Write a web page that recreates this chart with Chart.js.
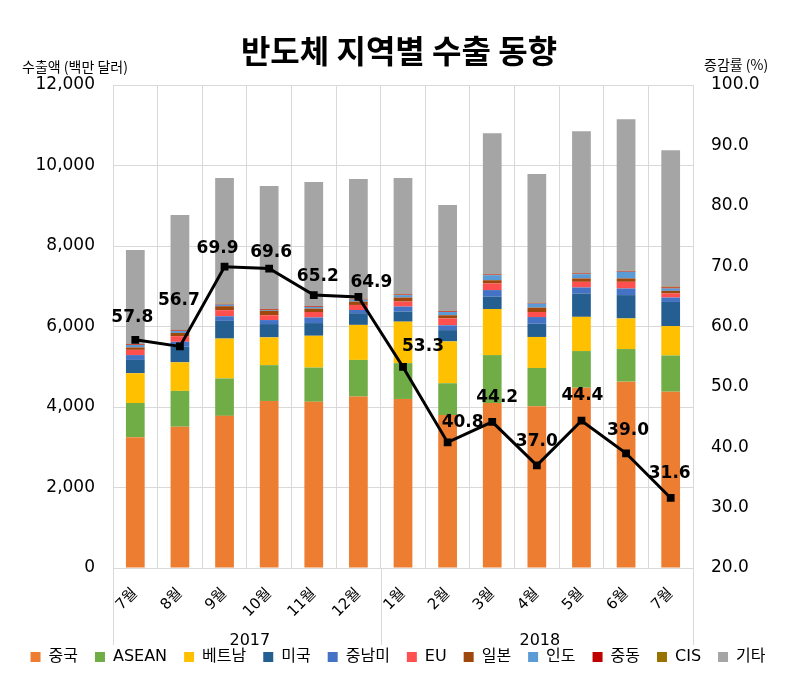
<!DOCTYPE html>
<html><head><meta charset="utf-8">
<script src="https://cdn.jsdelivr.net/npm/chart.js@4.4.0/dist/chart.umd.min.js"></script>
<style>html,body{margin:0;padding:0;background:#fff}#wrap{width:796px;height:685px}</style>
</head><body><div id="wrap"><canvas id="c" width="796" height="685"></canvas></div>
<script>
const months = ['7월','8월','9월','10월','11월','12월','1월','2월','3월','4월','5월','6월','7월'];
const yearLabels = ['2017','2018'];
const yearSpans = [6, 7];
const seriesNames = ['중국','ASEAN','베트남','미국','중남미','EU','일본','인도','중동','CIS','기타'];
const china   = [3250,3510,3780,4150,4130,4260,4200,3800,4100,4020,4480,4630,4380];
const asean   = [850,890,930,890,850,910,890,790,1190,950,910,810,900];
const vietnam = [740,710,990,690,790,870,1030,1040,1145,770,850,760,730];
const usa     = [330,390,440,330,315,290,250,280,305,330,580,580,600];
const latam   = [120,120,115,100,140,80,125,120,165,165,150,165,110];
const eu      = [130,140,150,120,135,125,125,170,165,125,140,165,100];
const japan   = [60,80,100,110,85,85,100,80,80,110,85,85,65];
const india   = [60,50,40,20,40,50,60,80,125,100,105,165,60];
const mideast = [15,15,15,15,15,15,15,15,15,15,15,15,25];
const cis     = [10,10,10,10,10,10,10,10,10,10,10,10,20];
const others  = [2335,2855,3120,3055,3080,2970,2885,2635,3500,3195,3525,3765,3390];
const growth  = [57.8,56.7,69.9,69.6,65.2,64.9,53.3,40.8,44.2,37.0,44.4,39.0,31.6];
const leftTitle = '수출액 (백만 달러)';
const rightTitle = '증감률 (%)';
const chartTitle = '반도체 지역별 수출 동향';

const colors = ['#ED7D31','#70AD47','#FFC000','#255E91','#4472C4','#FF4F4F','#9E480E','#5B9BD5','#C00000','#997300','#A5A5A5'];
const seriesData = [china,asean,vietnam,usa,latam,eu,japan,india,mideast,cis,others];
const labelOffsets = [[-3,-22],[-1,-46],[-7,-18],[2,-16],[4,-19],[13,-14],[20,-20],[15,-20],[5,-24],[0,-24],[1,-25],[2,-23],[-1,-24]];

const FONT = '"DejaVu Sans", "Noto Sans CJK KR", sans-serif';
Chart.defaults.font.family = FONT;
Chart.defaults.color = '#000';

const datasets = seriesData.map((d,i)=>({
  type:'bar', label:seriesNames[i], data:d, backgroundColor:colors[i], borderWidth:0,
  stack:'s', yAxisID:'y', order:1, barPercentage:0.42, categoryPercentage:1.0
}));
datasets.push({
  type:'line', label:'증감률', data:growth, yAxisID:'y1', order:0,
  borderColor:'#000', backgroundColor:'#000', borderWidth:3,
  pointStyle:'rect', pointRadius:5.5, pointBackgroundColor:'#000', pointBorderWidth:0, tension:0
});

const decor = {
  id:'decor',
  afterDatasetsDraw(chart){
    const ctx = chart.ctx;
    const meta = chart.getDatasetMeta(11);
    ctx.save();
    ctx.font = 'bold 17px "DejaVu Sans"';
    ctx.fillStyle = '#000';
    ctx.textAlign = 'center';
    ctx.textBaseline = 'middle';
    meta.data.forEach((pt,i)=>{
      const o = labelOffsets[i];
      ctx.fillText(growth[i].toFixed(1), pt.x+o[0], pt.y+o[1]);
    });
    ctx.restore();
  },
  afterDraw(chart){
    const ctx = chart.ctx;
    const xs = chart.scales.x;
    const bottom = chart.chartArea.bottom;
    ctx.save();
    ctx.fillStyle = '#000';
    ctx.font = 'bold 32px "Noto Sans CJK KR"';
    ctx.textAlign = 'center';
    ctx.textBaseline = 'middle';
    ctx.fillText(chartTitle, 399, 51);
    ctx.font = '14px "Noto Sans CJK KR"';
    ctx.textAlign = 'left';
    ctx.fillText(leftTitle, 22, 67);
    ctx.fillText(rightTitle, 704, 65);
    const step = (xs.right - xs.left) / months.length;
    ctx.strokeStyle = '#D9D9D9';
    ctx.lineWidth = 1;
    let start = 0;
    const bounds = [xs.left];
    yearSpans.forEach(n=>{ start += n; bounds.push(xs.left + step*start); });
    bounds.forEach(bx=>{
      const px = Math.round(bx)+0.5;
      ctx.beginPath(); ctx.moveTo(px, bottom); ctx.lineTo(px, bottom+77); ctx.stroke();
    });
    ctx.font = '16px "DejaVu Sans"';
    ctx.textAlign = 'center';
    ctx.fillStyle = '#000';
    yearLabels.forEach((t,i)=>{
      ctx.fillText(t, (bounds[i]+bounds[i+1])/2 + 3, 641);
    });
    ctx.restore();
  }
};

new Chart(document.getElementById('c'), {
  data:{labels:months, datasets},
  options:{
    responsive:false, animation:false, devicePixelRatio:1,
    layout:{padding:{top:85,bottom:10,left:0,right:0}},
    plugins:{
      legend:{position:'bottom', labels:{boxWidth:10, boxHeight:10, padding:17, font:{size:16, family:FONT}, color:'#000',
        filter:(item)=>item.datasetIndex<11}},
      tooltip:{enabled:false}, title:{display:false}
    },
    scales:{
      x:{stacked:true, grid:{offset:true, color:'#D9D9D9', drawTicks:false}, border:{color:'#D9D9D9'},
        ticks:{maxRotation:45, minRotation:45, padding:17, font:{size:15}, color:'#000'},
        afterFit(s){ s.height = 64; }},
      y:{stacked:true, min:0, max:12000, position:'left',
        ticks:{stepSize:2000, padding:18, font:{size:17}, color:'#000', callback:v=>v.toLocaleString('en-US')},
        grid:{color:'#D9D9D9', drawTicks:false}, border:{display:false},
        afterFit(s){ s.width = 113; }},
      y1:{min:20, max:100, position:'right',
        ticks:{stepSize:10, padding:18, font:{size:17}, color:'#000', callback:v=>v.toFixed(1)},
        grid:{display:false, drawTicks:false}, border:{display:false},
        afterFit(s){ s.width = 103; }}
    }
  },
  plugins:[decor]
});
</script></body></html>
